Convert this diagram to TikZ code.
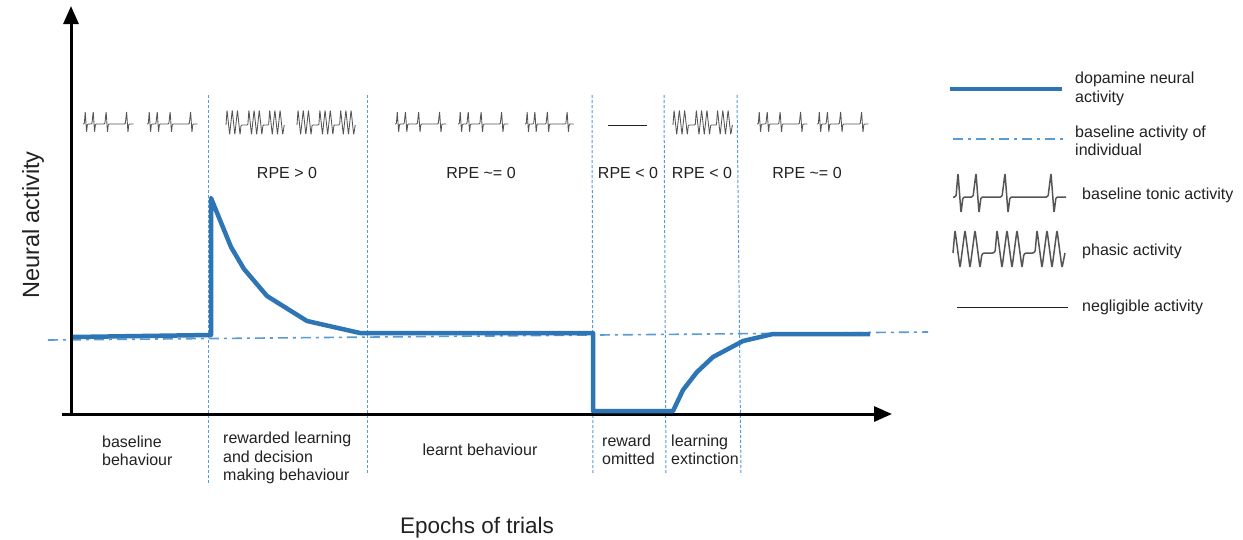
\documentclass[tikz,border=0pt]{standalone}
\usepackage{fontspec}
\setmainfont{Liberation Sans}
\usetikzlibrary{arrows.meta}
\definecolor{curveblue}{RGB}{46,117,182}
\definecolor{lineblue}{RGB}{91,155,213}
\definecolor{txt}{RGB}{34,34,34}
\definecolor{spk}{RGB}{85,85,85}
\tikzset{
  lbl/.style={inner sep=0pt, text=txt, font=\fontsize{16}{18.5}\selectfont},
  axisline/.style={line width=3pt, -{Triangle[length=18pt,width=15pt]}},
  epochline/.style={lineblue, line width=1pt, dash pattern=on 3pt off 2pt},
  baseline/.style={lineblue, line width=1.6pt, dash pattern=on 10pt off 5pt on 3pt off 5pt},
  dopa/.style={curveblue, line width=4.5pt, line join=round},
  pics/tonic/.style={code={
    \draw[spk, line join=round] (0,0) -- (3,0) -- (5,-24) -- (8,16) -- (10,0) -- (20,0) -- (23,-24) -- (26,16) -- (28,0)
      -- (49,0) -- (52,-24) -- (55,16) -- (57,0) -- (95,0) -- (98,-24) -- (101,16) -- (103,0) -- (113,0);}},
  pics/phasic/.style={code={
    \draw[spk, line join=round] (0,0) -- (2,-23) -- (7,15) -- (12,-23) -- (17,15) -- (22,-23) -- (27,15) -- (29,0)
      -- (42,0) -- (44,-23) -- (49,15) -- (54,-23) -- (59,15) -- (64,-23) -- (69,15) -- (71,0)
      -- (82,0) -- (84,-23) -- (89,15) -- (94,-23) -- (99,15) -- (104,-23) -- (109,15) -- (112,0);}},
  small/.style={line width=0.85pt, rounded corners=0.8pt},
  big/.style={line width=1.5pt}
}
\begin{document}
\begin{tikzpicture}[x=1pt,y=-1pt]
\fill[white] (0,0) rectangle (1243,539);
\path[use as bounding box] (0,0) rectangle (1243,539);

% epoch separators
\draw[epochline] (208,95) -- (208,485);
\draw[epochline] (367,95) -- (367,475);
\draw[epochline] (592,95) -- (593,475);
\draw[epochline] (664,95) -- (666,475);
\draw[epochline] (737,95) -- (741,475);

% baseline of individual
\coordinate (bl1) at (48,340);
\coordinate (bl2) at (928,332);
\draw[baseline] (bl1) -- (bl2);

% axes
\coordinate (yb) at (71,416);
\coordinate (yt) at (71,6);
\coordinate (xl) at (62,414);
\coordinate (xr) at (892,414);
\draw[axisline] (yb) -- (yt);
\draw[axisline] (xl) -- (xr);

% dopamine curve
\draw[dopa] (73,337) -- (211,335) -- (211,198) -- (231,247) -- (244,269) -- (267,296) -- (307,321) -- (360,333)
  -- (593,333) -- (593,411) -- (673,411) -- (683,390) -- (697,372) -- (713,357) -- (743,341) -- (773,334) -- (870,334);

% spike trains
\pic[small, xscale=0.445, yscale=0.52] at (83,124) {tonic};
\pic[small, xscale=0.445, yscale=0.52] at (147,124) {tonic};
\pic[small, xscale=0.52, yscale=0.65] at (226,125) {phasic};
\pic[small, xscale=0.52, yscale=0.65] at (297,125) {phasic};
\pic[small, xscale=0.455, yscale=0.52] at (395,124) {tonic};
\pic[small, xscale=0.445, yscale=0.52] at (458,124) {tonic};
\pic[small, xscale=0.43, yscale=0.52] at (525,124) {tonic};
\coordinate (ng1) at (608,125);
\coordinate (ng2) at (647,125);
\draw[txt, line width=0.9pt] (ng1) -- (ng2);
\pic[small, xscale=0.53, yscale=0.65] at (673,125) {phasic};
\pic[small, xscale=0.445, yscale=0.52] at (757,124) {tonic};
\pic[small, xscale=0.455, yscale=0.52] at (817,124) {tonic};

% RPE labels
\node[lbl] (r1) at (287,173) {RPE > 0};
\node[lbl] (r2) at (481,173) {RPE \textasciitilde= 0};
\node[lbl] (r3) at (628,173) {RPE < 0};
\node[lbl] (r4) at (702,173) {RPE < 0};
\node[lbl] (r5) at (807,173) {RPE \textasciitilde= 0};

% epoch labels
\node[lbl, anchor=west, align=left] (e1) at (102,451) {baseline\\behaviour};
\node[lbl, anchor=west, align=left] (e2) at (223,458) {rewarded learning\\and decision\\making behaviour};
\node[lbl] (e3) at (480,450) {learnt behaviour};
\node[lbl, anchor=west, align=left] (e4) at (602,450) {reward\\omitted};
\node[lbl, anchor=west, align=left] (e5) at (671,450) {learning\\extinction};

% axis titles
\node[inner sep=0pt, text=txt, font=\fontsize{22.5}{26}\selectfont, anchor=base] (xt) at (477,533) {Epochs of trials};
\node[inner sep=0pt, text=txt, font=\fontsize{23.5}{28}\selectfont, rotate=90] (ytl) at (33,225) {Neural activity};

% legend
\coordinate (l1a) at (950,89);
\coordinate (l1b) at (1062,89);
\draw[curveblue, line width=4.5pt] (l1a) -- (l1b);
\node[lbl, anchor=west, align=left] (t1) at (1075,89) {dopamine neural\\activity};
\coordinate (l2a) at (953,139);
\coordinate (l2b) at (1066,139);
\draw[baseline] (l2a) -- (l2b);
\node[lbl, anchor=west, align=left] (t2) at (1075,141) {baseline activity of\\individual};
\pic[big, rounded corners=1.5pt] at (953,197) {tonic};
\node[lbl, anchor=west] (t3) at (1082,195) {baseline tonic activity};
\pic[big, rounded corners=2.5pt] at (953,253) {phasic};
\node[lbl, anchor=west] (t4) at (1082,251) {phasic activity};
\coordinate (l5a) at (957,307);
\coordinate (l5b) at (1068,307);
\draw[txt, line width=1pt] (l5a) -- (l5b);
\node[lbl, anchor=west] (t5) at (1082,307) {negligible activity};
\end{tikzpicture}
\end{document}
